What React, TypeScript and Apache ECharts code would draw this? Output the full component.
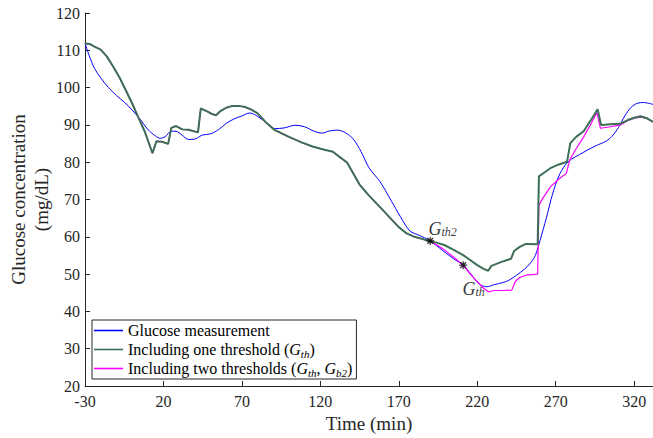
import React, { useEffect, useRef } from "react";
import * as echarts from "echarts";

// Time (min), glucose (mg/dL)
const glucoseMeasurement: [number, number][] = [
  [-30, 111.9], [-27, 108.2], [-24, 105.2], [-20, 102.6], [-15, 100.0], [-10, 97.9],
  [-5, 96.1], [0, 94.0], [5, 91.6], [10, 88.8], [15, 87.0], [18, 86.4], [21, 86.8],
  [25, 88.3], [28, 88.3], [32, 87.2], [36, 86.1], [40, 86.2], [45, 87.3], [50, 87.6],
  [55, 88.7], [60, 90.4], [65, 91.6], [70, 92.4], [75, 93.2], [78, 92.8], [85, 90.8],
  [91, 89.0], [97, 89.2], [104, 89.9], [110, 89.5], [116, 88.3], [121, 87.8],
  [126, 88.4], [131, 88.6], [136, 87.9], [141, 86.2], [146, 82.8], [151, 78.5],
  [158, 74.8], [165, 69.8], [171, 65.4], [177, 61.6], [183, 60.4], [190, 58.9],
  [198, 56.3], [205, 54.1], [211, 52.4], [216, 50.0], [221, 47.4], [226, 46.6],
  [231, 47.2], [236, 47.7], [240, 48.3], [245, 49.7], [250, 51.3], [254, 53.0],
  [257, 55.0], [260, 59.0], [264, 65.0], [268, 71.5], [272, 76.3], [276, 79.2],
  [280, 80.8], [285, 82.0], [290, 83.2], [296, 84.5], [302, 85.6], [306, 87.0],
  [310, 89.3], [314, 92.4], [318, 94.7], [322, 95.8], [326, 96.0], [332, 95.5],
];

// Both threshold curves coincide until G_th2
const sharedPrefix: [number, number][] = [
  [-30, 111.8], [-27, 111.7], [-24, 111.0], [-20, 110.2], [-16, 108.3], [-12, 105.6],
  [-8, 102.7], [-4, 99.3], [0, 95.8], [4, 92.0], [8, 88.3], [13, 82.4], [15.5, 85.6],
  [19, 85.5], [23, 84.9], [25, 89.2], [28, 89.7], [32, 88.8], [36, 88.7], [42, 88.0],
  [43.8, 94.4], [48.5, 93.5], [51, 92.9], [53.5, 92.6], [56, 93.6], [60, 94.6],
  [64, 95.1], [68, 95.1], [72, 94.8], [76, 94.1], [80, 93.1], [85, 90.8], [91, 88.6],
  [100, 86.8], [108, 85.3], [115, 84.2], [122, 83.4], [128, 82.8], [132, 81.5],
  [137, 79.9], [141, 77.0], [145, 74.0], [150, 71.5], [155, 69.3], [160, 67.1],
  [165, 64.8], [170, 62.6], [175, 60.9], [180, 60.0], [186, 59.3], [190, 58.9],
];

const oneThresholdTail: [number, number][] = [
  [195, 58.3], [199, 57.8], [205, 56.5], [211, 55.1], [215, 53.9], [220, 52.4],
  [224, 51.4], [227, 50.9], [229, 52.2], [235, 53.2], [241.5, 54.1], [243.5, 56.2],
  [247, 57.3], [251, 58.1], [258.5, 58.0], [259.3, 76.2], [263, 77.3], [267, 78.5],
  [272, 79.4], [277.2, 80.1], [279.3, 85.1], [283, 86.8], [287.8, 88.3], [292, 91.0],
  [296.7, 94.2], [298.9, 90.0], [305, 90.2], [311, 90.3], [316, 91.3], [320, 91.9],
  [324, 92.3], [328, 91.8], [332, 90.8],
];

const twoThresholdTail: [number, number][] = [
  [195, 57.6], [199, 56.5], [205, 54.5], [211, 52.4], [216, 49.8], [220, 48.0],
  [224, 46.2], [227.3, 45.2], [230.4, 45.6], [236, 45.6], [242, 45.7], [244.3, 48.1],
  [247, 49.1], [251, 49.7], [258.5, 50.0], [259.3, 68.5], [262, 70.5], [266.6, 73.4],
  [272, 75.5], [276.8, 77.0], [278.9, 80.6], [283, 83.6], [287.8, 86.8], [292, 89.9],
  [296.3, 93.3], [298.5, 89.1], [305, 89.5], [311.2, 90.0], [316, 91.2], [320, 91.8],
  [324, 92.1], [328, 91.8], [332, 90.8],
];

const thresholdMarks: { sub: string; value: [number, number] }[] = [
  { sub: "th2", value: [190, 58.9] },
  { sub: "th", value: [211, 52.4] },
];

const seriesNames = [
  "Glucose measurement",
  "Including one threshold",
  "Including two thresholds",
];
const legendLabels: Record<string, string> = {
  "Glucose measurement": "Glucose measurement",
  "Including one threshold": "Including one threshold ({i|G}{s|th})",
  "Including two thresholds": "Including two thresholds ({i|G}{s|th}, {i|G}{s|b2})",
};

const FONT = "Liberation Serif";
const AXIS = "#262626";
const BLUE = "#0000ff";
const GREEN = "#3c6f55";
const MAGENTA = "#ff00ff";
const ASTERISK = "path://M0,-5L0,5M-5,0L5,0M-3.6,-3.6L3.6,3.6M-3.6,3.6L3.6,-3.6";

export default function App() {
  const ref = useRef<HTMLDivElement>(null);
  useEffect(() => {
    if (!ref.current) return;
    const chart = echarts.init(ref.current, undefined, { renderer: "svg" });
    const legendColors = [BLUE, GREEN, MAGENTA];
    const option: any = {
      animation: false,
      backgroundColor: "#ffffff",
      textStyle: { fontFamily: FONT },
      grid: { left: 85, right: 0, top: 13, bottom: 52, containLabel: false, outerBoundsMode: "none" },
      xAxis: {
        type: "value",
        min: -30,
        max: 332,
        interval: 50,
        axisLine: { show: true, onZero: false, lineStyle: { color: AXIS, width: 1 } },
        axisTick: { show: true, inside: true, length: 5, lineStyle: { color: AXIS } },
        axisLabel: { color: AXIS, fontSize: 16, fontFamily: FONT, margin: 7, showMaxLabel: false },
        splitLine: { show: false },
        name: "Time (min)",
        nameLocation: "middle",
        nameGap: 28,
        nameMoveOverlap: false,
        nameTextStyle: { color: AXIS, fontSize: 19, fontFamily: FONT },
      },
      yAxis: {
        type: "value",
        min: 20,
        max: 120,
        interval: 10,
        axisLine: { show: true, onZero: false, lineStyle: { color: AXIS, width: 1 } },
        axisTick: { show: true, inside: true, length: 5, lineStyle: { color: AXIS } },
        axisLabel: { color: AXIS, fontSize: 16, fontFamily: FONT, margin: 5 },
        splitLine: { show: false },
        name: "Glucose concentration\n(mg/dL)",
        nameLocation: "middle",
        nameRotate: 90,
        nameGap: 32,
        nameMoveOverlap: false,
        nameTextStyle: { color: AXIS, fontSize: 19, lineHeight: 23, fontFamily: FONT },
      },
      legend: {
        data: seriesNames.map((n, i) => ({
          name: n,
          icon: "rect",
          itemStyle: { color: legendColors[i] },
        })),
        orient: "vertical",
        left: 92,
        top: 320,
        padding: [1, 4, 1, 2],
        itemGap: 0,
        itemWidth: 29,
        itemHeight: 1.6,
        backgroundColor: "#ffffff",
        borderColor: AXIS,
        borderWidth: 1,
        borderRadius: 0,
        formatter: (name: string) => legendLabels[name] || name,
        textStyle: {
          color: "#000",
          fontSize: 16,
          fontFamily: FONT,
          lineHeight: 19,
          rich: {
            i: { fontStyle: "italic", fontSize: 16, fontFamily: FONT, color: "#000", lineHeight: 19 },
            s: { fontStyle: "italic", fontSize: 11, fontFamily: FONT, color: "#000", verticalAlign: "bottom", lineHeight: 14 },
          },
        },
      },
      series: [
        {
          name: seriesNames[0],
          type: "line",
          data: glucoseMeasurement,
          smooth: 0.3,
          symbol: "none",
          lineStyle: { color: BLUE, width: 1 },
          itemStyle: { color: BLUE },
          z: 2,
        },
        {
          name: seriesNames[2],
          type: "line",
          data: [...sharedPrefix, ...twoThresholdTail],
          symbol: "none",
          lineStyle: { color: MAGENTA, width: 1.2 },
          itemStyle: { color: MAGENTA },
          z: 3,
        },
        {
          name: seriesNames[1],
          type: "line",
          data: [...sharedPrefix, ...oneThresholdTail],
          symbol: "none",
          lineStyle: { color: GREEN, width: 2 },
          itemStyle: { color: GREEN },
          z: 4,
        },
        {
          name: "thresholds",
          type: "scatter",
          symbol: ASTERISK,
          symbolSize: 8,
          itemStyle: { color: "#000", borderColor: "#000", borderWidth: 1.3 },
          z: 6,
          data: thresholdMarks.map((m, idx) => ({
            value: m.value,
            label: {
              show: true,
              formatter: `{g|G}{s|${m.sub}}`,
              position: idx === 0 ? [3, 2] : [4, 20],
              verticalAlign: idx === 0 ? "bottom" : "top",
              align: "left",
              rich: {
                g: { fontStyle: "italic", fontSize: 18, fontFamily: FONT, color: "#000", lineHeight: 18 },
                s: { fontStyle: "italic", fontSize: 12, fontFamily: FONT, color: "#000", verticalAlign: "bottom", lineHeight: 12 },
              },
            },
          })),
        },
      ],
    };
    chart.setOption(option);
    return () => chart.dispose();
  }, []);
  return (
    <div
      ref={ref}
      style={{ position: "fixed", left: 0, top: 0, width: 653, height: 438, background: "#fff" }}
    />
  );
}
